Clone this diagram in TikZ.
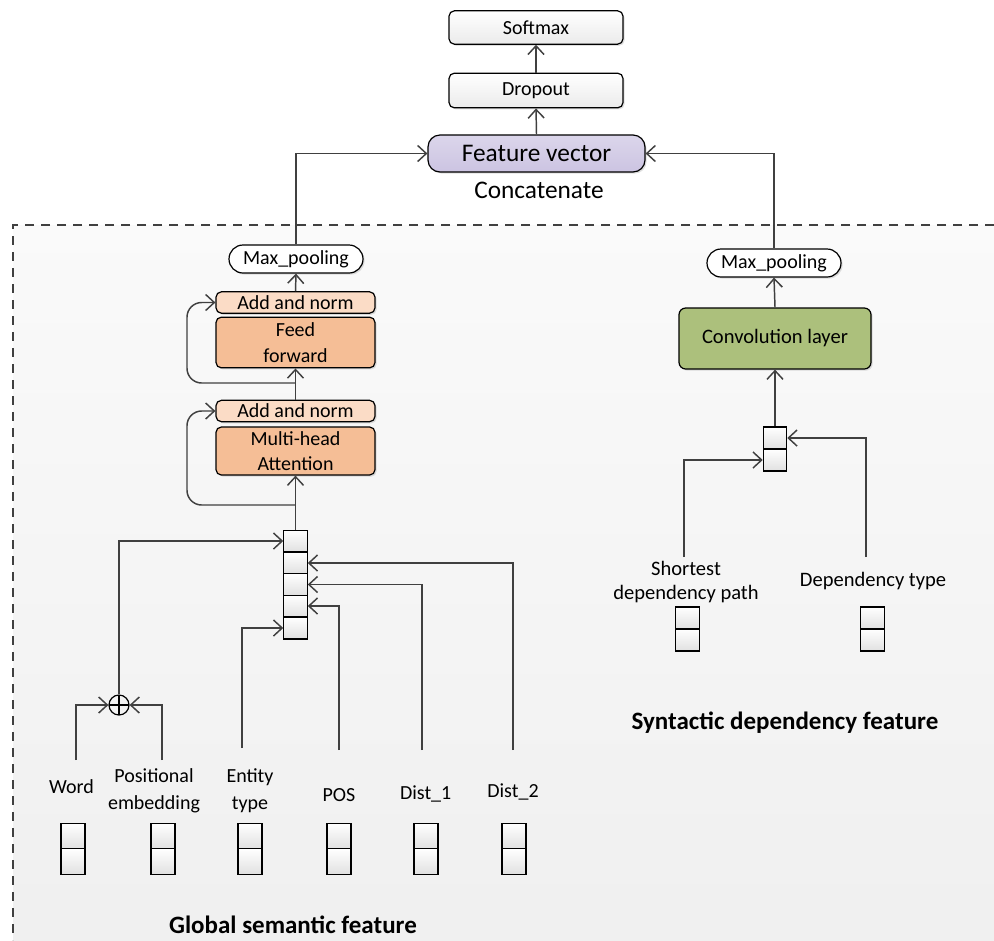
\documentclass[tikz,border=0pt]{standalone}
\usepackage{fontspec}
\setmainfont{Carlito}
\usetikzlibrary{arrows.meta,shadows}

\definecolor{featfill}{RGB}{204,196,226}
\definecolor{normfill}{RGB}{251,220,198}
\definecolor{layerfill}{RGB}{245,190,150}
\definecolor{convfill}{RGB}{172,192,124}
\definecolor{linegray}{RGB}{64,64,64}

\begin{document}
\begin{tikzpicture}[x=0.75pt,y=-0.75pt,
  >={Straight Barb[length=6.5pt,width=12pt,line width=1.1pt]},
  conn/.style={->,draw=linegray,line width=1.1pt},
  shade/.style={drop shadow={shadow xshift=1.2pt,shadow yshift=-1.2pt,opacity=0.25}},
  plainbox/.style={draw,line width=0.9pt,rounded corners=4pt,top color=white,bottom color=black!8,
    minimum width=130.5pt,minimum height=25pt,inner sep=0pt,font=\fontsize{15}{19}\selectfont,shade},
  featbox/.style={draw,line width=0.9pt,rounded corners=9pt,top color=featfill!70,bottom color=featfill,
    minimum width=162.75pt,minimum height=27.75pt,inner sep=0pt,font=\fontsize{19}{22}\selectfont,shade},
  poolbox/.style={draw,line width=0.9pt,rounded corners=10.5pt,fill=white,
    minimum width=100.5pt,minimum height=21pt,inner sep=0pt,font=\fontsize{15}{19}\selectfont,shade},
  normbox/.style={draw,line width=0.9pt,rounded corners=4pt,fill=normfill,
    minimum width=119.25pt,minimum height=16pt,inner sep=0pt,font=\fontsize{15}{19}\selectfont,shade},
  layerbox/.style={draw,line width=0.9pt,rounded corners=4pt,fill=layerfill,align=center,
    minimum width=119.25pt,inner sep=0pt,font=\fontsize{15}{19}\selectfont,shade},
  convbox/.style={draw,line width=0.9pt,rounded corners=5pt,fill=convfill,
    minimum width=144pt,minimum height=45.75pt,inner sep=0pt,font=\fontsize{15.4}{19}\selectfont,shade},
  cell/.style={draw,line width=0.9pt,top color=white,bottom color=black!12,minimum width=17.5pt,inner sep=0pt},
  lbl/.style={align=center,inner sep=0pt,font=\fontsize{15}{20}\selectfont},
  head/.style={inner sep=0pt,anchor=base,font=\bfseries\fontsize{18.75}{22}\selectfont}]

  \useasboundingbox (0,0) rectangle (994,940);

  \fill[top color=black!2,bottom color=black!6] (13,225) rectangle (994,940);
  \draw[dash pattern=on 7pt off 5pt,line width=1pt,draw=black!75] (994,225) -- (13,225) -- (13,940);

  \node[plainbox] (soft) at (536,27.5) {Softmax};
  \node[plainbox,minimum height=26pt] (drop) at (536,90.5) {Dropout};
  \node[featbox] (fv) at (536.5,153.5) {Feature vector};
  \node[lbl,font=\fontsize{19}{22}\selectfont] (cat) at (539,190) {Concatenate};

  \node[poolbox] (mpL) at (296,259) {Max\_pooling};
  \node[normbox] (an1) at (295.5,302.5) {Add and norm};
  \node[layerbox,minimum height=38pt] (ff) at (295.5,342.5) {Feed\\forward};
  \node[normbox] (an2) at (295.5,411) {Add and norm};
  \node[layerbox,minimum height=36pt] (mha) at (295.5,451) {Multi-head\\Attention};

  \foreach \i/\cy in {1/541,2/563,3/584.5,4/606,5/628}
    \node[cell,minimum height=16.35pt] (c\i) at (295.5,\cy) {};

  \node[draw,circle,line width=0.9pt,minimum size=15pt,inner sep=0pt,
    path picture={\draw[line width=0.9pt] (path picture bounding box.north) -- (path picture bounding box.south)
      (path picture bounding box.west) -- (path picture bounding box.east);}] (plus) at (119,705) {};

  \node[lbl] (wLbl) at (71.5,787) {Word};
  \node[lbl] (peLbl) at (154,791) {Positional\\embedding};
  \node[lbl] (etLbl) at (250,790.5) {Entity\\type};
  \node[lbl] (posLbl) at (339,795.5) {POS};
  \node[lbl] (d1Lbl) at (425.7,793.6) {Dist\_1};
  \node[lbl] (d2Lbl) at (513,791.7) {Dist\_2};

  \foreach \vx/\vn in {73/w,163/pe,250/et,339/pos,426/da,514/db}{
    \node[cell,minimum height=19.1pt,minimum width=18pt] (\vn a) at (\vx,836) {};
    \node[cell,minimum height=19.1pt,minimum width=18pt] (\vn b) at (\vx,861.5) {};
  }

  \node[head] (gsf) at (293,933) {Global semantic feature};

  \node[poolbox] (mpR) at (774,263) {Max\_pooling};
  \node[convbox] (conv) at (775,338.5) {Convolution layer};
  \node[cell,minimum height=16.5pt] (s1) at (775,438) {};
  \node[cell,minimum height=16.5pt] (s2) at (775,460) {};

  \node[lbl,font=\fontsize{15.4}{18}\selectfont] (sdpLbl) at (686,582) {Shortest\\dependency path};
  \node[lbl,font=\fontsize{15.4}{18}\selectfont] (dtLbl) at (873,581) {Dependency type};
  \foreach \vx/\vn in {687.5/sp,872.5/dt}{
    \node[cell,minimum height=16.5pt] (\vn a) at (\vx,618) {};
    \node[cell,minimum height=16.5pt] (\vn b) at (\vx,640) {};
  }
  \node[head] (sdf) at (785,729) {Syntactic dependency feature};

  \coordinate (res1) at (295.5,383);
  \coordinate (res2) at (295.5,505);
  \coordinate (wIn) at (76,760);
  \coordinate (peIn) at (162,760);
  \coordinate (etIn) at (242,748);
  \coordinate (posIn) at (339,750);
  \coordinate (d1In) at (422,750);
  \coordinate (d2In) at (513,750);
  \coordinate (spIn) at (684,557);
  \coordinate (dtIn) at (866,557);

  \draw[conn] (drop.north) -- (soft.south);
  \draw[conn] (fv.north) -- (drop.south);
  \draw[conn] (mpL.north) |- (fv.west);
  \draw[conn] (mpR.north) |- (fv.east);

  \draw[conn] (an1.north) -- (mpL.south);
  \draw[conn] (an2.north) -- (ff.south);
  \draw[conn,rounded corners=11pt] (res1) -- ++(-108.5,0) |- (an1.west);
  \draw[conn] (c1.north) -- (mha.south);
  \draw[conn,rounded corners=11pt] (res2) -- ++(-108.5,0) |- (an2.west);

  \draw[conn] (wIn) |- (plus.west);
  \draw[conn] (peIn) |- (plus.east);
  \draw[conn] (plus.north) |- (c1.west);
  \draw[conn] (etIn) |- (c5.west);
  \draw[conn] (posIn) |- (c4.east);
  \draw[conn] (d1In) |- (c3.east);
  \draw[conn] (d2In) |- (c2.east);

  \draw[conn] (conv.north) -- (mpR.south);
  \draw[conn] (s1.north) -- (conv.south);
  \draw[conn] (spIn) |- (s2.west);
  \draw[conn] (dtIn) |- (s1.east);
\end{tikzpicture}
\end{document}
